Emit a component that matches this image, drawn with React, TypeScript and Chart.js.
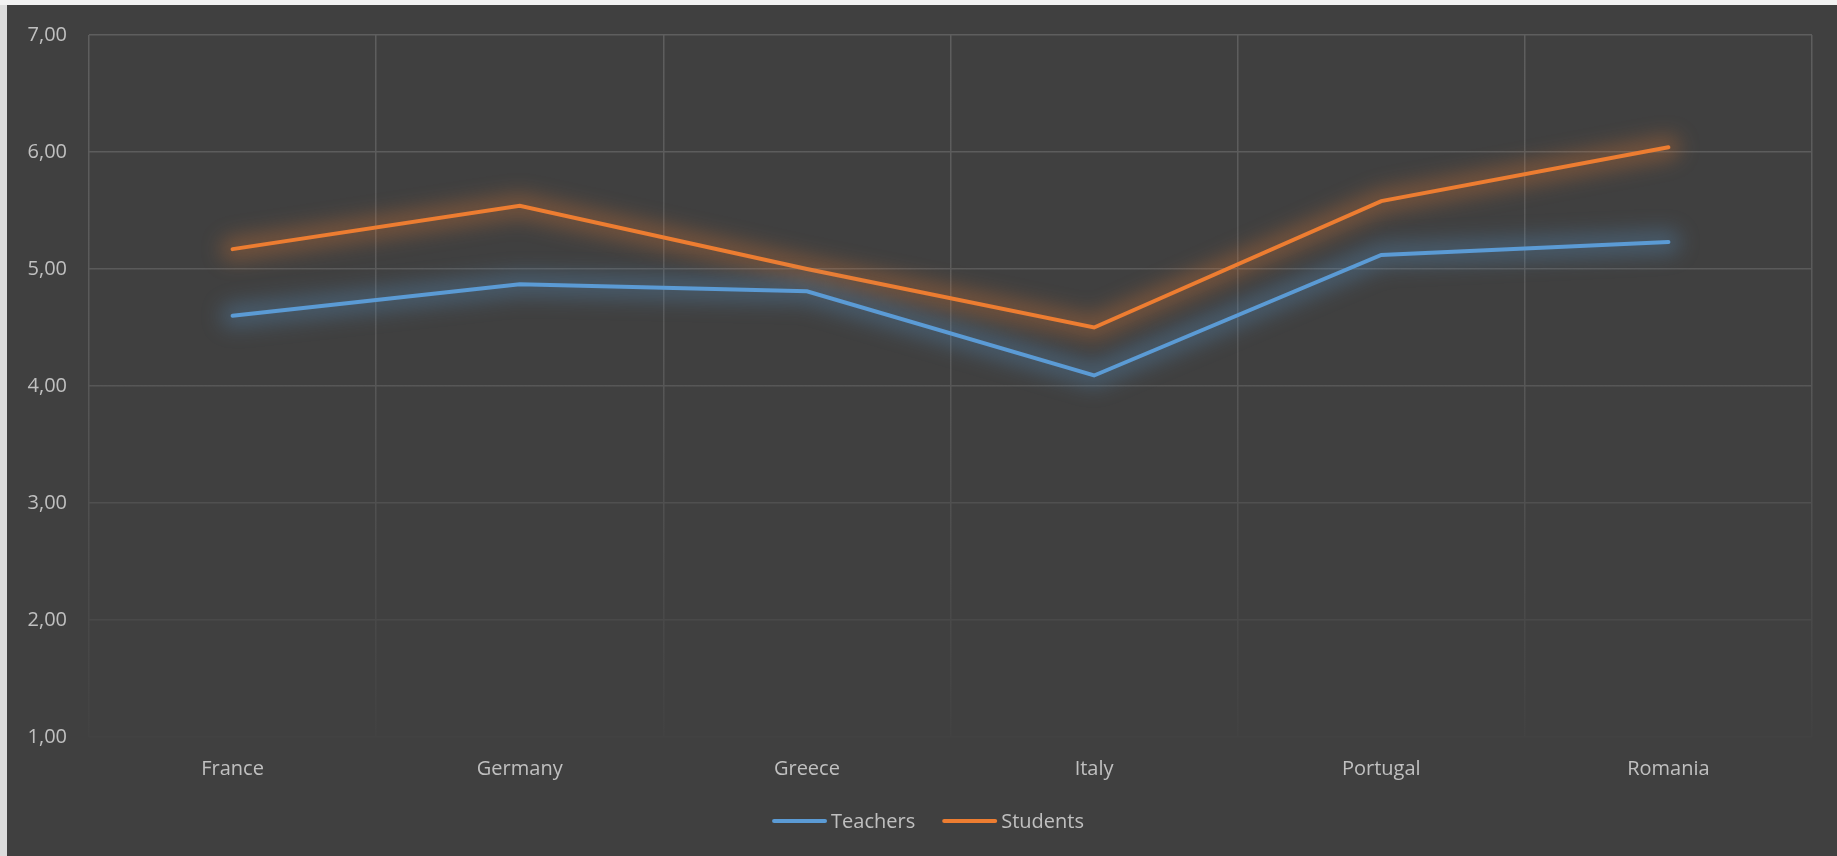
import React, { useEffect, useRef } from 'react';
import { Chart, registerables } from 'chart.js';

Chart.register(...registerables);

// Survey averages per country
const countries = ['France', 'Germany', 'Greece', 'Italy', 'Portugal', 'Romania'];
const teachers = [4.6, 4.87, 4.81, 4.09, 5.12, 5.23];
const students = [5.17, 5.54, 5.0, 4.5, 5.58, 6.04];

const yMin = 1;
const yMax = 7;
const yStep = 1;

const FONT = "'Open Sans', 'Noto Sans', sans-serif";
const TEXT = '#c0c0c0';
const BG = '#404040';

// soft glow under each series line, traced through the dataset's own points
const glowPlugin = {
  id: 'lineGlow',
  beforeDatasetDraw(chart: any, args: any) {
    const ds: any = chart.data.datasets[args.index];
    const pts = args.meta.data;
    if (!pts || pts.length < 2) return;
    const ctx = chart.ctx;
    ctx.save();
    ctx.filter = 'blur(10px)';
    ctx.strokeStyle = ds.glowColor;
    ctx.lineWidth = 24;
    ctx.lineJoin = 'round';
    ctx.lineCap = 'round';
    ctx.beginPath();
    pts.forEach((p: any, i: number) => (i === 0 ? ctx.moveTo(p.x, p.y) : ctx.lineTo(p.x, p.y)));
    ctx.stroke();
    ctx.restore();
  },
};

// legend drawn as line samples under the axis
const lineLegendPlugin = {
  id: 'lineLegend',
  afterDraw(chart: any) {
    const ctx = chart.ctx;
    ctx.save();
    ctx.font = `20px ${FONT}`;
    const lineLen = 55;
    const gapText = 4;
    const gapItem = 27;
    const items = chart.data.datasets.map((d: any) => ({
      label: d.label,
      color: d.borderColor,
      w: ctx.measureText(d.label).width,
    }));
    const total =
      items.reduce((s: number, it: any) => s + lineLen + gapText + it.w, 0) +
      gapItem * (items.length - 1);
    let x = chart.width / 2 + 6 - total / 2;
    const y = chart.height - 35;
    ctx.textBaseline = 'middle';
    ctx.textAlign = 'left';
    ctx.lineCap = 'round';
    ctx.lineWidth = 4;
    for (const it of items) {
      ctx.strokeStyle = it.color;
      ctx.beginPath();
      ctx.moveTo(x + 2, y);
      ctx.lineTo(x + lineLen - 2, y);
      ctx.stroke();
      x += lineLen + gapText;
      ctx.fillStyle = TEXT;
      ctx.fillText(it.label, x, y + 1);
      x += it.w + gapItem;
    }
    ctx.restore();
  },
};

function gridColor(c: any) {
  const chart = c.chart;
  const area = chart.chartArea;
  if (!area) return '#5a5a5a';
  const g = chart.ctx.createLinearGradient(0, area.top, 0, area.bottom);
  g.addColorStop(0, '#5e5e5e');
  g.addColorStop(0.45, '#595959');
  g.addColorStop(1, '#424242');
  return g;
}

export default function App() {
  const canvasRef = useRef<HTMLCanvasElement | null>(null);

  useEffect(() => {
    const canvas = canvasRef.current;
    if (!canvas) return;
    const chart = new Chart(canvas, {
      type: 'line',
      data: {
        labels: countries,
        datasets: [
          {
            label: 'Teachers',
            data: teachers,
            borderColor: '#5b9bd5',
            glowColor: 'rgba(91,155,213,0.3)',
            borderWidth: 4,
            pointRadius: 0,
            borderCapStyle: 'round',
            borderJoinStyle: 'miter',
            tension: 0,
            clip: false,
          } as any,
          {
            label: 'Students',
            data: students,
            borderColor: '#ed7d31',
            glowColor: 'rgba(237,125,49,0.3)',
            borderWidth: 4,
            pointRadius: 0,
            borderCapStyle: 'round',
            borderJoinStyle: 'miter',
            tension: 0,
            clip: false,
          } as any,
        ],
      },
      options: {
        animation: false,
        responsive: false,
        maintainAspectRatio: false,
        layout: { padding: { top: 30, right: 25, left: 0, bottom: 0 } },
        plugins: {
          legend: { display: false },
          tooltip: { enabled: false },
        },
        scales: {
          x: {
            offset: true,
            grid: { offset: true, color: gridColor, lineWidth: 1.5, drawTicks: false },
            border: { display: false },
            ticks: { color: TEXT, font: { family: FONT, size: 20 }, padding: 20 },
            afterFit(scale: any) {
              scale.height = 119;
            },
          },
          y: {
            min: yMin,
            max: yMax,
            grid: { color: gridColor, lineWidth: 1.5, drawTicks: false },
            border: { display: false },
            ticks: {
              stepSize: yStep,
              color: TEXT,
              font: { family: FONT, size: 20 },
              padding: 22,
              callback: (v: any) => Number(v).toFixed(2).replace('.', ','),
            },
            afterFit(scale: any) {
              scale.width = 82;
              scale.paddingTop = 0;
              scale.paddingBottom = 0;
            },
          },
        },
      } as any,
      plugins: [glowPlugin, lineLegendPlugin],
    });
    return () => chart.destroy();
  }, []);

  return (
    <div
      style={{
        position: 'fixed',
        left: 0,
        top: 0,
        width: 1837,
        height: 856,
        background: '#dcdcdc',
      }}
    >
      <div style={{ position: 'absolute', left: 0, top: 0, width: 1837, height: 5, background: '#f2f2f2' }} />
      <div
        style={{
          position: 'absolute',
          left: 7,
          top: 5,
          width: 1830,
          height: 851,
          background: BG,
        }}
      >
        <canvas ref={canvasRef} width={1830} height={851} style={{ display: 'block' }} />
      </div>
    </div>
  );
}
